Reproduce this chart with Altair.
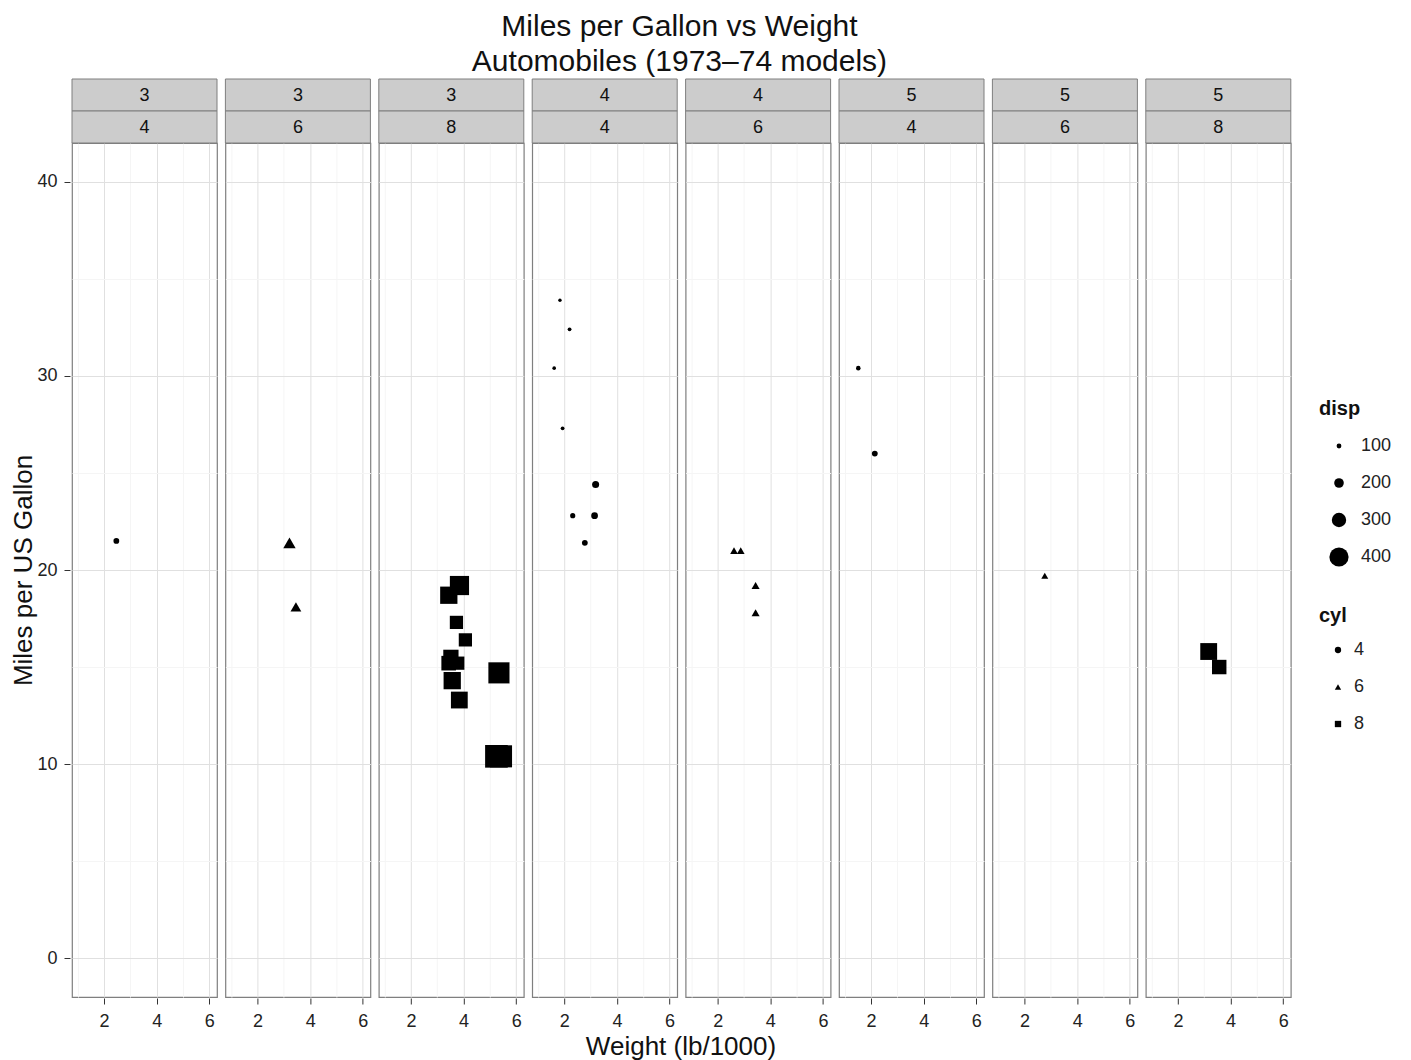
import altair as alt
import pandas as pd

# mtcars values
mpg = [21.0, 21.0, 22.8, 21.4, 18.7, 18.1, 14.3, 24.4, 22.8, 19.2, 17.8, 16.4, 17.3, 15.2, 10.4, 10.4,
       14.7, 32.4, 30.4, 33.9, 21.5, 15.5, 15.2, 13.3, 19.2, 27.3, 26.0, 30.4, 15.8, 19.7, 15.0, 21.4]
cyl = [6, 6, 4, 6, 8, 6, 8, 4, 4, 6, 6, 8, 8, 8, 8, 8, 8, 4, 4, 4, 4, 8, 8, 8, 8, 4, 4, 4, 8, 6, 8, 4]
disp = [160, 160, 108, 258, 360, 225, 360, 146.7, 140.8, 167.6, 167.6, 275.8, 275.8, 275.8, 472, 460,
        440, 78.7, 75.7, 71.1, 120.1, 318, 304, 350, 400, 79, 120.3, 95.1, 351, 145, 301, 121]
wt = [2.620, 2.875, 2.320, 3.215, 3.440, 3.460, 3.570, 3.190, 3.150, 3.440, 3.440, 4.070, 3.730, 3.780,
      5.250, 5.424, 5.345, 2.200, 1.615, 1.835, 2.465, 3.520, 3.435, 3.840, 3.845, 1.935, 2.140, 1.513,
      3.170, 2.770, 3.570, 2.780]
gear = [4, 4, 4, 3, 3, 3, 3, 4, 4, 4, 4, 3, 3, 3, 3, 3, 3, 4, 4, 4, 3, 3, 3, 3, 3, 4, 5, 5, 5, 5, 5, 4]

x_ticks = [1, 2, 3, 4, 5, 6]
y_ticks = [0, 5, 10, 15, 20, 25, 30, 35, 40]
disp_legend = [100, 200, 300, 400]
cyl_levels = [4, 6, 8]
cyl_shapes = ["circle", "triangle-up", "square"]

df = pd.DataFrame({"mpg": mpg, "cyl": cyl, "disp": disp, "wt": wt, "gear": gear})
df["panel"] = df["gear"].astype(str) + "|" + df["cyl"].astype(str)

FONT = "Liberation Sans"
W, H = 145, 854
STRIP = "#cccccc"
BORDER = "#7f7f7f"

xscale = alt.Scale(domain=[0.78, 6.29], nice=False, zero=False)
yscale = alt.Scale(domain=[-2, 42], nice=False, zero=False)

xaxis = alt.Axis(
    values=x_ticks, title=None, domain=False,
    labelExpr="datum.value % 2 == 0 ? datum.label : ''",
    gridColor=alt.condition("datum.value % 2 == 0", alt.value("#e0e0e0"), alt.value("#f5f5f5")),
    tickOpacity=alt.condition("datum.value % 2 == 0", alt.value(1), alt.value(0)),
    tickColor="#333333", tickSize=6, labelPadding=8,
    labelFontSize=18, labelColor="#222222", labelFont=FONT,
)
yaxis = alt.Axis(
    values=y_ticks, title="Miles per US Gallon", domain=False,
    labelExpr="datum.value % 10 == 0 ? datum.label : ''",
    gridColor=alt.condition("datum.value % 10 == 0", alt.value("#e0e0e0"), alt.value("#f5f5f5")),
    tickOpacity=alt.condition("datum.value % 10 == 0", alt.value(1), alt.value(0)),
    tickColor="#333333", tickSize=6, labelPadding=7,
    labelFontSize=18, labelColor="#222222", labelFont=FONT,
    titleFontSize=26, titleFontWeight="normal", titleFont=FONT, titleColor="#111111", titlePadding=0,
)

points = alt.Chart().mark_point(filled=True, opacity=1, color="black", strokeWidth=0).encode(
    x=alt.X("wt:Q", scale=xscale, axis=xaxis),
    y=alt.Y("mpg:Q", scale=yscale, axis=yaxis),
    size=alt.Size(
        "disp:Q",
        scale=alt.Scale(type="pow", exponent=2, domain=[0, 472], range=[0, 513]),
        legend=alt.Legend(
            title="disp", values=disp_legend, symbolType="circle",
            symbolFillColor="black", symbolStrokeWidth=0, symbolOpacity=1,
            orient="none", legendX=1247, legendY=256,
            clipHeight=30, rowPadding=7, symbolOffset=10, labelOffset=12, titlePadding=12,
            titleFont=FONT, labelFont=FONT, titleFontSize=20, labelFontSize=18,
            titleColor="#111111", labelColor="#222222", titleFontWeight="bold",
        ),
    ),
    shape=alt.Shape(
        "cyl:N",
        scale=alt.Scale(domain=cyl_levels, range=cyl_shapes),
        legend=alt.Legend(
            title="cyl", symbolSize=40, symbolFillColor="black", symbolStrokeWidth=0,
            symbolOpacity=1, orient="none", legendX=1247, legendY=463,
            clipHeight=30, rowPadding=7, symbolOffset=10, labelOffset=7, titlePadding=9,
            titleFont=FONT, labelFont=FONT, titleFontSize=20, labelFontSize=18,
            titleColor="#111111", labelColor="#222222", titleFontWeight="bold",
        ),
    ),
)

strip_top = alt.Chart().mark_rect(fill=STRIP, stroke=BORDER, strokeWidth=1).encode(
    x=alt.value(0), x2=alt.value(W), y=alt.value(-64), y2=alt.value(-32),
    detail=alt.Detail("min(gear):Q"),
)
strip_bot = alt.Chart().mark_rect(fill=STRIP, stroke=BORDER, strokeWidth=1).encode(
    x=alt.value(0), x2=alt.value(W), y=alt.value(-32), y2=alt.value(0),
    detail=alt.Detail("min(cyl):Q"),
)
text_top = alt.Chart().mark_text(fontSize=18, font=FONT, color="#111111", baseline="middle").encode(
    x=alt.value(W / 2), y=alt.value(-47), text=alt.Text("min(gear):Q"),
)
text_bot = alt.Chart().mark_text(fontSize=18, font=FONT, color="#111111", baseline="middle").encode(
    x=alt.value(W / 2), y=alt.value(-15), text=alt.Text("min(cyl):Q"),
)

layer = alt.layer(strip_top, strip_bot, text_top, text_bot, points).properties(width=W, height=H)

chart = layer.facet(
    column=alt.Column(
        "panel:N",
        header=alt.Header(labels=False, title="Weight (lb/1000)", titleOrient="bottom",
                          titleFontSize=26, titleFontWeight="normal", titleFont=FONT,
                          titleColor="#111111", titlePadding=-6),
    ),
    data=df,
    spacing=4.4,
).properties(
    title=alt.Title(
        ["Miles per Gallon vs Weight", "Automobiles (1973\u201374 models)"],
        fontSize=30, fontWeight="normal", font=FONT, color="#111111",
        anchor="middle", lineHeight=35, offset=1, dx=-22,
    ),
    padding={"left": 2, "top": 3, "right": 5, "bottom": 0},
).configure(
    font=FONT
).configure_view(
    stroke=BORDER, strokeWidth=1.2, fill="white"
)

chart.save("out.html", embed_options={"renderer": "svg", "actions": False})
